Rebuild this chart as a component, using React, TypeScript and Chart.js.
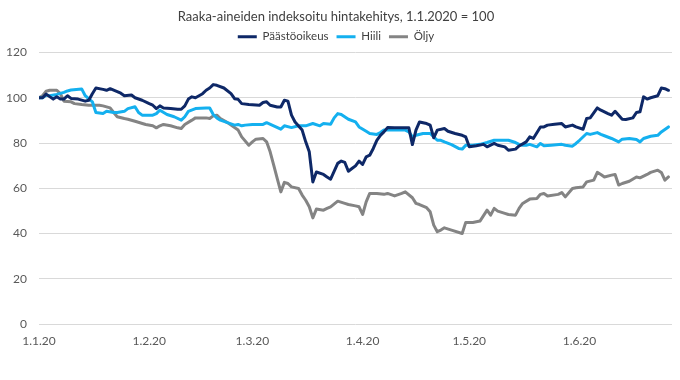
import React, { useEffect, useRef } from "react";
import { Chart, registerables } from "chart.js";

Chart.register(...registerables);

// Day index counted from 1.1.2020 (day 0)
const monthStartDays = [0, 31, 60, 91, 121, 152];
const monthLabels = ["1.1.20", "1.2.20", "1.3.20", "1.4.20", "1.5.20", "1.6.20"];
const yTicks = [0, 20, 40, 60, 80, 100, 120];

const seriesNames = ["Päästöoikeus", "Hiili", "Öljy"];

const paastoDays = [0, 1, 2, 3, 4, 5, 6, 7, 8, 9, 11, 13, 14, 15, 16, 18, 19, 20, 22, 23, 24, 26, 27, 29, 31, 32, 33, 34, 35, 37, 39, 40, 41, 42, 43, 44, 46, 47, 48, 49, 50, 52, 54, 55, 56, 57, 59, 62, 63, 64, 65, 67, 68, 69, 70, 71, 72, 74, 75, 76, 77, 78, 80, 81, 82, 84, 85, 86, 87, 88, 89, 90, 91, 92, 93, 94, 95, 96, 97, 98, 100, 104, 105, 106, 107, 109, 110, 111, 112, 114, 115, 117, 119, 120, 121, 123, 125, 126, 128, 129, 131, 132, 134, 135, 137, 138, 139, 141, 142, 143, 145, 147, 148, 150, 151, 153, 154, 155, 157, 158, 160, 161, 162, 164, 165, 167, 168, 169, 170, 171, 172, 174, 175, 176, 177];
const paastoValues = [100, 100, 101.6, 100.5, 99.4, 100.4, 99.4, 99.4, 100.9, 99.7, 99.4, 98.5, 98.9, 101.8, 104.3, 103.7, 103.3, 104, 102.7, 102, 100.9, 101.2, 100, 98.9, 97.4, 96.7, 95.2, 96.4, 95.5, 95.2, 94.9, 94.9, 96.4, 99.4, 100.4, 100, 101.8, 103.3, 104.3, 105.8, 105.5, 104.3, 101.8, 99.6, 99.3, 97.4, 97, 96.7, 97.9, 98.2, 96.7, 95.9, 95.9, 98.9, 98.5, 92.3, 89.3, 85.7, 80.5, 76.1, 62.8, 67.2, 66.1, 65, 64, 71, 72, 71.4, 67.5, 68.7, 69.9, 72, 70.5, 73.9, 74.6, 77.6, 81.2, 83.4, 84.9, 86.8, 86.7, 86.7, 79.3, 85.7, 89.3, 88.6, 87.9, 82.3, 85.7, 86.4, 85.2, 84.2, 83.4, 82.7, 78.3, 78.8, 79.4, 78.3, 79.8, 79, 78.3, 76.8, 77.3, 78.7, 80.5, 82.7, 82, 87.1, 87.1, 87.9, 88.3, 88.6, 87.1, 87.9, 87.1, 86.1, 90.8, 91.1, 95.5, 94.5, 93, 92.3, 94, 90.5, 90.4, 91.1, 93.5, 93.8, 100.4, 99.4, 100, 100.9, 104.3, 104, 103.3];

const hiiliDays = [0, 1, 2, 3, 5, 7, 8, 9, 12, 13, 15, 16, 18, 19, 21, 22, 24, 25, 27, 28, 29, 32, 33, 34, 36, 38, 40, 41, 42, 44, 47, 48, 49, 50, 51, 53, 55, 56, 57, 58, 60, 63, 64, 66, 68, 69, 71, 73, 75, 77, 79, 80, 82, 83, 84, 85, 87, 89, 90, 92, 93, 95, 96, 97, 99, 103, 104, 105, 106, 108, 110, 112, 113, 114, 116, 118, 119, 120, 122, 124, 126, 128, 132, 134, 135, 136, 137, 138, 140, 141, 142, 144, 147, 148, 150, 151, 152, 154, 155, 157, 158, 159, 161, 163, 164, 166, 168, 169, 170, 172, 174, 175, 177];
const hiiliValues = [100, 100, 101.2, 100.9, 101.5, 102.4, 103, 103.4, 103.9, 100.9, 98.2, 93.5, 93, 94, 93.5, 93.5, 94, 95.2, 96, 93.5, 92.3, 92.3, 93, 94.5, 92.6, 91.6, 90.1, 91.6, 94, 95.2, 95.5, 95.5, 92.6, 91.1, 90.1, 89, 87.9, 88.2, 87.6, 87.9, 88.2, 88.2, 89, 87.6, 86.1, 87.6, 86.8, 87.6, 87.6, 88.6, 87.6, 88.6, 88.3, 91.1, 93, 92.6, 90.5, 89.3, 87.1, 85.2, 84.2, 83.8, 84.6, 85.7, 85.7, 85.7, 84.9, 82.7, 83.4, 84.2, 84.2, 81.2, 81.2, 80.5, 79.3, 77.6, 77.3, 79, 79, 79.4, 80.2, 81.2, 81.2, 80.2, 79.4, 79, 79, 79.4, 78.3, 79.8, 78.8, 79, 79.4, 79, 78.6, 79.8, 81.2, 84.2, 83.8, 84.6, 83.8, 83.2, 82, 80.5, 81.7, 82, 81.5, 80.5, 82, 83, 83.4, 84.9, 87.1];

const oljyDays = [0, 1, 2, 3, 5, 6, 7, 9, 10, 12, 14, 17, 18, 20, 21, 22, 24, 25, 27, 30, 32, 33, 34, 35, 37, 39, 40, 41, 43, 44, 47, 48, 49, 50, 51, 53, 54, 56, 57, 59, 60, 61, 63, 64, 65, 66, 67, 68, 69, 70, 71, 73, 74, 75, 76, 77, 78, 80, 81, 82, 84, 86, 87, 89, 90, 91, 92, 93, 95, 97, 98, 100, 102, 103, 105, 106, 107, 109, 110, 111, 112, 113, 114, 116, 119, 120, 122, 124, 126, 127, 128, 129, 131, 132, 134, 135, 136, 138, 140, 141, 142, 143, 146, 147, 148, 150, 151, 153, 154, 156, 157, 158, 159, 161, 162, 163, 164, 166, 168, 169, 171, 172, 174, 175, 176, 177];
const oljyValues = [100, 100.9, 102.9, 103.3, 103.3, 101.8, 98.5, 98.2, 97.4, 97, 96.7, 96.7, 96.4, 95.5, 93.5, 91.6, 90.8, 90.5, 89.6, 88.2, 87.6, 86.7, 87.6, 88.2, 87.6, 86.7, 86.4, 88.2, 90.1, 91.1, 91.1, 90.8, 92, 92.3, 90.8, 89, 87.9, 85.7, 82.7, 79, 80.5, 81.7, 82, 80.5, 76.1, 70.2, 64.3, 58.4, 62.6, 62.1, 60.6, 59.9, 57, 54.7, 51.8, 46.9, 50.8, 50.3, 51.1, 51.8, 54.3, 53.3, 52.8, 52.2, 51.8, 48.4, 54, 57.7, 57.7, 57.3, 57.7, 56.6, 57.7, 58.4, 55.8, 53.3, 52.8, 51.4, 49.6, 43.7, 40.8, 41.5, 42.5, 41.5, 40, 44.9, 44.9, 45.5, 50.3, 48.1, 51.1, 49.9, 48.9, 48.4, 48.1, 51.1, 53.3, 55.2, 55.5, 57.3, 57.7, 56.6, 57.3, 58.1, 56.2, 59.9, 60.2, 60.6, 62.8, 63.6, 67, 66.1, 65, 65.8, 66.1, 61.4, 62.1, 63.1, 65, 64.6, 66.1, 67, 68, 67, 63.6, 65];

const toPoints = (days: number[], values: number[]) => days.map((d, i) => ({ x: d, y: values[i] }));

const FONT = "Lato, 'Liberation Sans', sans-serif";

export default function App() {
  const canvasRef = useRef<HTMLCanvasElement | null>(null);

  useEffect(() => {
    document.body.style.margin = "0";
    const canvas = canvasRef.current;
    if (!canvas) return;
    const colors = ["#0e2867", "#14b0ef", "#848484"];
    const chart = new Chart(canvas, {
      type: "line",
      data: {
        datasets: [
          { label: seriesNames[0], data: toPoints(paastoDays, paastoValues), borderColor: colors[0], backgroundColor: colors[0], borderWidth: 3 },
          { label: seriesNames[1], data: toPoints(hiiliDays, hiiliValues), borderColor: colors[1], backgroundColor: colors[1], borderWidth: 3 },
          { label: seriesNames[2], data: toPoints(oljyDays, oljyValues), borderColor: colors[2], backgroundColor: colors[2], borderWidth: 3 },
        ],
      },
      options: {
        responsive: false,
        animation: false,
        layout: { padding: { left: 0, right: 8, top: 0, bottom: 0 } },
        elements: { point: { radius: 0 }, line: { tension: 0, borderJoinStyle: "round", borderCapStyle: "round" } },
        plugins: {
          title: {
            display: true,
            text: "Raaka-aineiden indeksoitu hintakehitys, 1.1.2020 = 100",
            color: "#404040",
            font: { family: FONT, size: 13, weight: "normal", lineHeight: 1 },
            padding: { top: 10, bottom: 0 },
          },
          legend: {
            display: true,
            labels: {
              usePointStyle: true,
              pointStyle: "line",
              pointStyleWidth: 19,
              color: "#404040",
              font: { family: FONT, size: 11.5 },
              padding: 8,
              boxHeight: 11,
            },
          },
          tooltip: { enabled: false },
        },
        scales: {
          x: {
            type: "linear",
            min: 0,
            max: 178,
            afterBuildTicks: (scale: any) => {
              scale.ticks = monthStartDays.map((d) => ({ value: d }));
            },
            afterFit: (scale: any) => {
              scale.height = 56;
            },
            ticks: {
              autoSkip: false,
              maxRotation: 0,
              padding: 10,
              color: "#595959",
              font: { family: FONT, size: 12 },
              callback: (v: any) => {
                const i = monthStartDays.indexOf(Number(v));
                return i >= 0 ? monthLabels[i] : "";
              },
            },
            grid: { display: false, drawTicks: false },
            border: { display: false },
          },
          y: {
            min: 0,
            max: 120,
            afterBuildTicks: (scale: any) => {
              scale.ticks = yTicks.map((v) => ({ value: v }));
            },
            afterFit: (scale: any) => {
              scale.width = 39;
            },
            ticks: {
              padding: 12,
              color: "#595959",
              font: { family: FONT, size: 12 },
            },
            grid: { color: "#d9d9d9", lineWidth: 1, drawTicks: false },
            border: { display: false },
          },
        },
      },
    });
    return () => chart.destroy();
  }, []);

  return <canvas ref={canvasRef} width={680} height={380} style={{ display: "block" }} />;
}
